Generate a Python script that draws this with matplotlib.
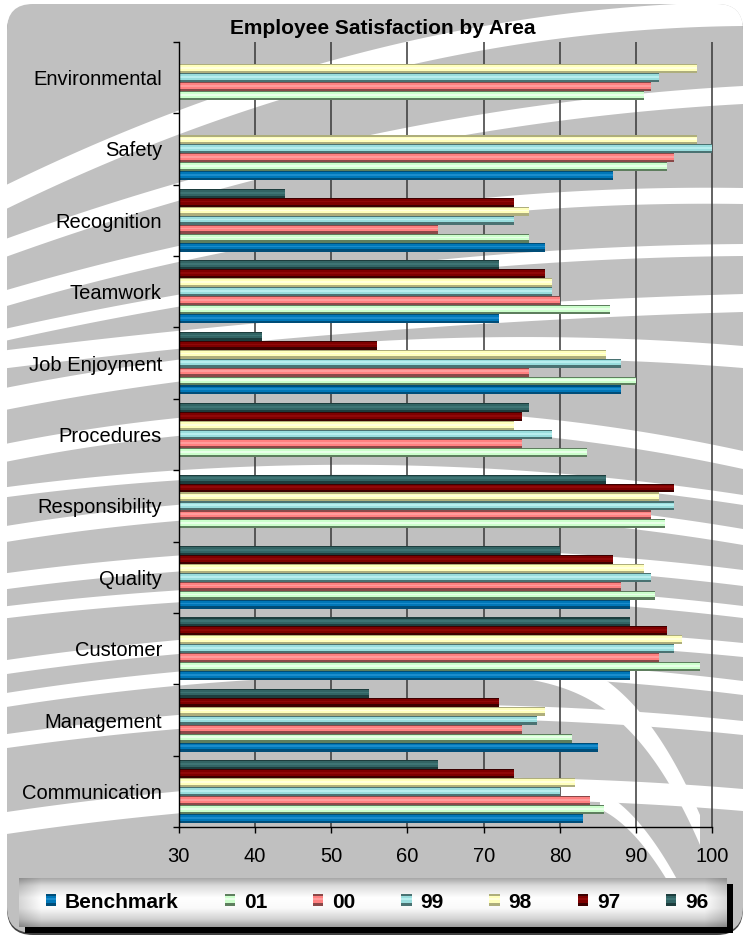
import numpy as np
import matplotlib
matplotlib.use("Agg")
import matplotlib.pyplot as plt
from matplotlib.patches import FancyBboxPatch, Rectangle, Polygon
from matplotlib.legend_handler import HandlerBase

nan = np.nan

# ---- data -------------------------------------------------------------
categories = ["Environmental", "Safety", "Recognition", "Teamwork",
              "Job Enjoyment", "Procedures", "Responsibility", "Quality",
              "Customer", "Management", "Communication"]
series_names = ["Benchmark", "01", "00", "99", "98", "97", "96"]

benchmark = [nan, 87, 78, 72, 88, nan, nan, 89.2, 89.2, 85, 83]
year_01 = [91, 94, 76, 86.5, 90, 83.6, 93.8, 92.5, 98.4, 81.6, 85.8]
year_00 = [92, 95, 64, 80, 76, 75, 92, 88, 93, 75, 84]
year_99 = [93, 100, 74, 79, 88, 79, 95, 92, 95, 77, 80]
year_98 = [98, 98, 76, 79, 86, 74, 93, 91, 96, 78, 82]
year_97 = [nan, nan, 74, 78, 56, 75, 95, 87, 94, 72, 74]
year_96 = [nan, nan, 44, 72, 41, 76, 86, 80, 89.2, 55, 64]

x_ticks = [30, 40, 50, 60, 70, 80, 90, 100]
title = "Employee Satisfaction by Area"

# ---- styling ----------------------------------------------------------
series_values = [benchmark, year_01, year_00, year_99, year_98, year_97, year_96]
# (edge shade, body, highlight) for each series
series_colors = [
    ("#004d78", "#0077b8", "#1b8ccc"),
    ("#5e7e5e", "#ccffcc", "#e8ffe8"),
    ("#8a4848", "#ff8080", "#ff9c9c"),
    ("#4a7272", "#99dddd", "#b8eeee"),
    ("#aeae7c", "#ffffbb", "#ffffdc"),
    ("#3c0000", "#7e0000", "#900808"),
    ("#1d3d3d", "#326464", "#3e7474"),
]

plt.rcParams["font.family"] = ["Liberation Sans", "DejaVu Sans"]

W, H = 743, 936
fig = plt.figure(figsize=(W / 100, H / 100), dpi=100, facecolor="white")

# ---- decorative backdrop (pixel coordinates, y downwards) -------------
bg = fig.add_axes([0, 0, 1, 1], zorder=-10)
bg.axis("off")
bg.set_xlim(0, W)
bg.set_ylim(H, 0)

shadow = FancyBboxPatch((7, 6), 736, 929, boxstyle="round,pad=0,rounding_size=26",
                        fc="#404040", ec="none", zorder=0)
bg.add_patch(shadow)
panel = FancyBboxPatch((7, 4), 736, 929, boxstyle="round,pad=0,rounding_size=26",
                       fc="#c0c0c0", ec="none", zorder=1)
bg.add_patch(panel)


def add_band(xs, yc, thick):
    half = thick / 2.0
    upper = np.column_stack([xs, yc - half])
    lower = np.column_stack([xs[::-1], (yc + half)[::-1]])
    poly = Polygon(np.vstack([upper, lower]), closed=True, fc="white", ec="none", zorder=1.5)
    bg.add_patch(poly)
    poly.set_clip_path(panel)


def curve_band(pts, thick, n=240):
    px, py = np.array(pts, dtype=float).T
    xs = np.linspace(px.min(), px.max(), n)
    coeff = np.polyfit(px, py, min(3, len(px) - 1))
    add_band(xs, np.polyval(coeff, xs), thick)


# wavy white stripes: centre heights at the left edge, middle and right edge
stripes = [
    (200, 60, 14, 24), (250, 142, 95, 18), (300, 218, 196, 16),
    (336, 272, 250, 12), (360, 322, 303, 18), (400, 352, 357, 22),
    (454, 418, 460, 18), (493, 470, 500, 10), (535, 505, 537, 16),
    (582, 556, 578, 16), (613, 590, 612, 12), (668, 636, 650, 14),
    (701, 668, 688, 14), (742, 712, 728, 14), (824, 790, 800, 22),
]
for yl, ym, yr, t in stripes:
    curve_band([(0, yl), (380, ym), (743, yr)], t)

# lower-right swoosh
curve_band([(430, 640), (560, 672), (650, 740), (700, 830)], 30)
curve_band([(600, 800), (660, 860), (700, 935)], 18)

# legend strip: drop shadow + rounded-looking gradient bar
bg.add_patch(Rectangle((25, 884), 708, 49, fc="black", ec="none", zorder=3))
tv = np.linspace(0, 1, 60)
prof = np.interp(tv, [0, 0.15, 0.4, 0.62, 0.85, 1], [0.66, 0.86, 1.0, 0.98, 0.82, 0.62])
sv = np.linspace(0, 1, 300)
side = np.interp(sv, [0, 0.03, 0.97, 1], [0.85, 1, 1, 0.85])
grad = np.clip(prof[:, None] * side[None, :], 0, 1)
bg.imshow(np.dstack([grad] * 3), extent=(19, 727, 927, 878), aspect="auto",
          interpolation="bilinear", zorder=4)
bg.set_xlim(0, W)
bg.set_ylim(H, 0)

# ---- main chart -------------------------------------------------------
ax = fig.add_axes([178.6 / W, 1 - 827.3 / H, (712.5 - 178.6) / W, (827.3 - 41.7) / H])
ax.patch.set_alpha(0)
n_cat = len(categories)
n_ser = len(series_names)
ax.set_xlim(x_ticks[0], x_ticks[-1])
ax.set_ylim(n_cat - 0.5, -0.5)

ax.vlines(x_ticks[1:], -0.5, n_cat - 0.5, colors="#383838", lw=1.1, zorder=0.5, clip_on=False)

h = 0.1255
pos = np.arange(n_cat)
base = x_ticks[0]
for k, (vals, (dark, body, hi)) in enumerate(zip(series_values, series_colors)):
    vals = np.asarray(vals, dtype=float)
    yk = pos + (3 - k) * h
    widths = vals - base
    ax.barh(yk, widths, left=base, height=h, color=dark, lw=0, zorder=2)
    ax.barh(yk - 0.065 * h, widths, left=base, height=0.62 * h, color=body, lw=0, zorder=3)
    ax.barh(yk - 0.08 * h, widths, left=base, height=0.2 * h, color=hi, lw=0, zorder=4)

for s in ["top", "right"]:
    ax.spines[s].set_visible(False)
for s in ["left", "bottom"]:
    ax.spines[s].set_color("black")
    ax.spines[s].set_linewidth(1.0)
    ax.spines[s].set_zorder(5)

ax.set_xticks(x_ticks)
ax.set_xticklabels([str(v) for v in x_ticks])
ax.tick_params(axis="x", direction="out", length=4, width=1, pad=10, labelsize=14.5)

ax.set_yticks(np.arange(n_cat + 1) - 0.5)
ax.set_yticklabels([])
ax.set_yticks(pos, minor=True)
ax.set_yticklabels(categories, minor=True)
ax.tick_params(axis="y", which="major", direction="out", length=4, width=1)
ax.tick_params(axis="y", which="minor", length=0, pad=12, labelsize=14.5)

fig.text(382.5 / W, 1 - 29 / H, title, ha="center", va="center",
         fontsize=15, fontweight="bold")


# ---- legend -----------------------------------------------------------
class Swatch:
    def __init__(self, colors):
        self.colors = colors


class SwatchHandler(HandlerBase):
    def create_artists(self, legend, orig_handle, xdescent, ydescent,
                       width, height, fontsize, trans):
        dark, body, hi = orig_handle.colors
        x0, y0 = -xdescent, -ydescent
        return [
            Rectangle((x0, y0), width, height, fc=dark, ec="none", transform=trans),
            Rectangle((x0, y0 + 0.25 * height), width, 0.62 * height, fc=body, ec="none", transform=trans),
            Rectangle((x0, y0 + 0.5 * height), width, 0.2 * height, fc=hi, ec="none", transform=trans),
        ]


handles = [Swatch(c) for c in series_colors]
fig.legend(handles, series_names, handler_map={Swatch: SwatchHandler()},
           loc="center", bbox_to_anchor=(377 / W, 1 - 902 / H), ncol=n_ser,
           frameon=False, prop={"weight": "bold", "size": 15},
           handlelength=0.5, handleheight=0.5, handletextpad=0.42,
           columnspacing=2.2, borderpad=0)

fig.savefig("out.png", dpi=100, facecolor="white")
